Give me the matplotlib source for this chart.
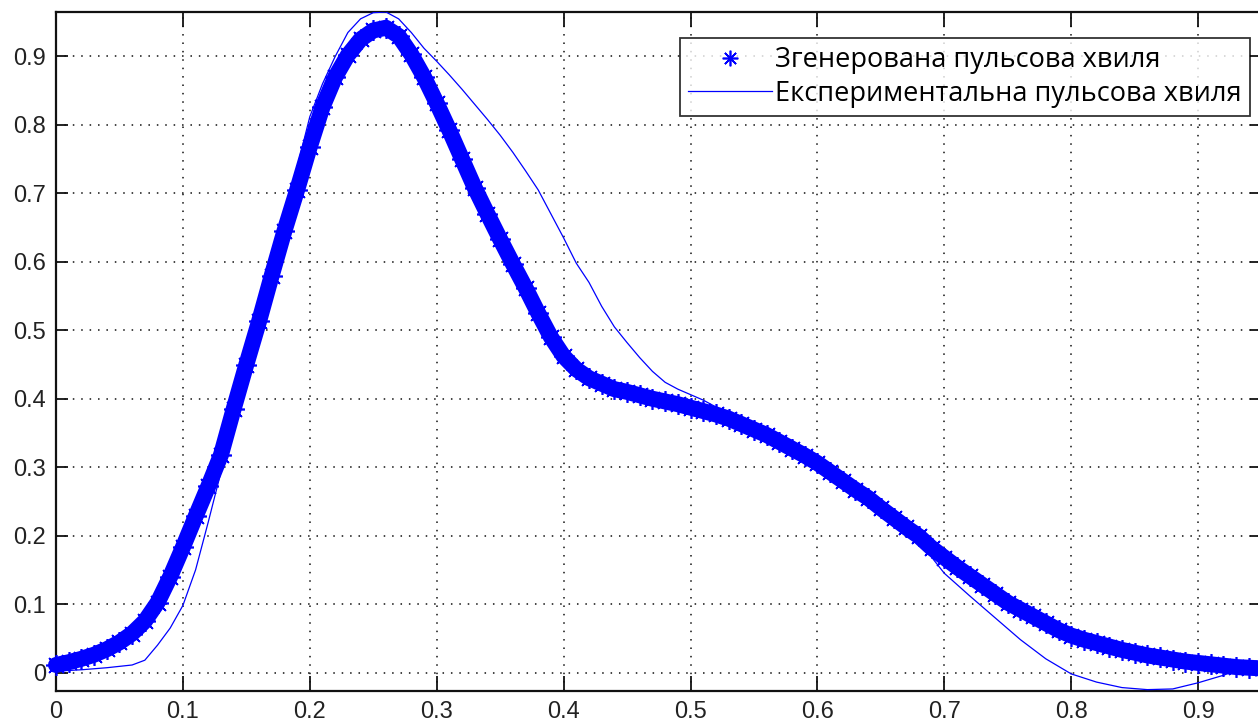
import matplotlib
matplotlib.use("Agg")
import matplotlib.pyplot as plt

# ---------------- data ----------------
gen_x = [0.00, 0.01, 0.02, 0.03, 0.04, 0.05, 0.06, 0.07, 0.08, 0.09,
         0.10, 0.11, 0.12, 0.13, 0.14, 0.15, 0.16, 0.17, 0.18, 0.19,
         0.20, 0.21, 0.22, 0.23, 0.24, 0.25, 0.26, 0.27, 0.28, 0.29,
         0.30, 0.31, 0.32, 0.33, 0.34, 0.35, 0.36, 0.37, 0.38, 0.39,
         0.40, 0.41, 0.42, 0.43, 0.44, 0.45, 0.46, 0.47, 0.48, 0.49,
         0.50, 0.51, 0.52, 0.53, 0.54, 0.55, 0.56, 0.57, 0.58, 0.59,
         0.60, 0.61, 0.62, 0.63, 0.64, 0.65, 0.66, 0.67, 0.68, 0.69,
         0.70, 0.71, 0.72, 0.73, 0.74, 0.75, 0.76, 0.77, 0.78, 0.79,
         0.80, 0.81, 0.82, 0.83, 0.84, 0.85, 0.86, 0.87, 0.88, 0.89,
         0.90, 0.91, 0.92, 0.93, 0.94, 0.95]
gen_y = [0.011, 0.015, 0.020, 0.026, 0.034, 0.044, 0.057, 0.075, 0.102, 0.140,
         0.183, 0.228, 0.272, 0.318, 0.385, 0.450, 0.513, 0.580, 0.645, 0.705,
         0.768, 0.826, 0.870, 0.902, 0.925, 0.938, 0.942, 0.930, 0.903, 0.870,
         0.832, 0.792, 0.750, 0.708, 0.670, 0.633, 0.597, 0.562, 0.525, 0.490,
         0.462, 0.443, 0.430, 0.422, 0.414, 0.410, 0.405, 0.400, 0.396, 0.392,
         0.387, 0.382, 0.377, 0.371, 0.363, 0.355, 0.347, 0.337, 0.327, 0.317,
         0.306, 0.293, 0.280, 0.267, 0.255, 0.240, 0.226, 0.212, 0.199, 0.182,
         0.168, 0.154, 0.141, 0.128, 0.115, 0.102, 0.092, 0.082, 0.072, 0.062,
         0.054, 0.048, 0.043, 0.038, 0.033, 0.029, 0.025, 0.022, 0.019, 0.016,
         0.014, 0.012, 0.010, 0.008, 0.007, 0.006]

exp_x = [0.00, 0.02, 0.04, 0.06, 0.07, 0.08, 0.09, 0.10, 0.11, 0.12,
         0.13, 0.14, 0.15, 0.16, 0.17, 0.18, 0.19, 0.20, 0.21, 0.22,
         0.23, 0.24, 0.25, 0.26, 0.27, 0.28, 0.29, 0.30, 0.31, 0.32,
         0.33, 0.34, 0.35, 0.36, 0.37, 0.38, 0.39, 0.40, 0.41, 0.42,
         0.43, 0.44, 0.45, 0.46, 0.47, 0.48, 0.49, 0.50, 0.51, 0.52,
         0.53, 0.54, 0.56, 0.58, 0.60, 0.62, 0.64, 0.66, 0.68, 0.70,
         0.72, 0.74, 0.76, 0.78, 0.80, 0.82, 0.84, 0.86, 0.88, 0.90,
         0.92, 0.93, 0.95]
exp_y = [0.002, 0.004, 0.007, 0.011, 0.018, 0.040, 0.065, 0.098, 0.150, 0.220,
         0.293, 0.382, 0.455, 0.530, 0.600, 0.668, 0.738, 0.812, 0.860, 0.900,
         0.935, 0.955, 0.964, 0.965, 0.955, 0.935, 0.912, 0.893, 0.873, 0.852,
         0.830, 0.808, 0.785, 0.760, 0.733, 0.705, 0.670, 0.635, 0.598, 0.570,
         0.535, 0.505, 0.482, 0.460, 0.440, 0.424, 0.414, 0.406, 0.398, 0.388,
         0.378, 0.371, 0.355, 0.335, 0.313, 0.287, 0.262, 0.232, 0.192, 0.145,
         0.112, 0.080, 0.048, 0.020, -0.002, -0.014, -0.022, -0.025, -0.024, -0.015,
         -0.004, 0.003, 0.006]

xticks = [0, 0.1, 0.2, 0.3, 0.4, 0.5, 0.6, 0.7, 0.8, 0.9]
yticks = [0, 0.1, 0.2, 0.3, 0.4, 0.5, 0.6, 0.7, 0.8, 0.9]
xtick_labels = ["0", "0.1", "0.2", "0.3", "0.4", "0.5", "0.6", "0.7", "0.8", "0.9"]
ytick_labels = ["0", "0.1", "0.2", "0.3", "0.4", "0.5", "0.6", "0.7", "0.8", "0.9"]

label_gen = "Згенерована пульсова хвиля"
label_exp = "Експериментальна пульсова хвиля"

# ---------------- figure ----------------
W, H = 1258, 725
fig = plt.figure(figsize=(W / 100, H / 100), dpi=100)
ax = fig.add_axes([56 / W, 34 / H, 0.95 * 1269 / W, 679 / H])

blue = (0, 0, 1)
asterisk = (8, 2, 0)
# generated wave: thick band of asterisk markers
ax.plot(gen_x, gen_y, "-", color=blue, lw=11.5, solid_capstyle="round",
        solid_joinstyle="round", zorder=3, clip_on=False)
ax.plot(gen_x, gen_y, ls="none", marker=asterisk, ms=15, color=blue, mew=1.2,
        label=label_gen, zorder=4, clip_on=False)
# experimental wave: thin line
ax.plot(exp_x, exp_y, "-", color=blue, lw=0.9, label=label_exp, zorder=5)

ax.set_xlim(0, 0.95)
ax.set_ylim(-0.027, 0.965)
ax.set_xticks(xticks)
ax.set_xticklabels(xtick_labels)
ax.set_yticks(yticks)
ax.set_yticklabels(ytick_labels)

ax.grid(True, color="#111111", lw=1.1, ls=(0, (1, 4.5)))
ax.set_axisbelow(True)

for sp in ax.spines.values():
    sp.set_linewidth(1.6)
    sp.set_color("#111111")

ax.tick_params(axis="x", direction="in", length=10.5, width=1.3, top=True,
               labelsize=17, pad=7, colors="#111111")
ax.tick_params(axis="y", direction="in", length=8.5, width=1.3, right=True,
               labelsize=17, pad=7, colors="#111111")
for lab in ax.get_xticklabels() + ax.get_yticklabels():
    lab.set_family(["Liberation Sans", "DejaVu Sans"])
    lab.set_color("#222222")

leg = ax.legend(loc="upper left", bbox_to_anchor=((680 - 56) / (0.95 * 1269), (691 - 38) / 679),
                borderaxespad=0, frameon=True, fancybox=False, shadow=False,
                handlelength=3.1, handletextpad=0.1, borderpad=0.3, labelspacing=0.2,
                prop={"family": ["Open Sans", "DejaVu Sans"], "size": 19.5},
                markerscale=0.75, numpoints=1)
leg.get_frame().set_edgecolor("black")
leg.get_frame().set_linewidth(1.3)
leg.set_zorder(10)

fig.savefig("out.png", dpi=100)
